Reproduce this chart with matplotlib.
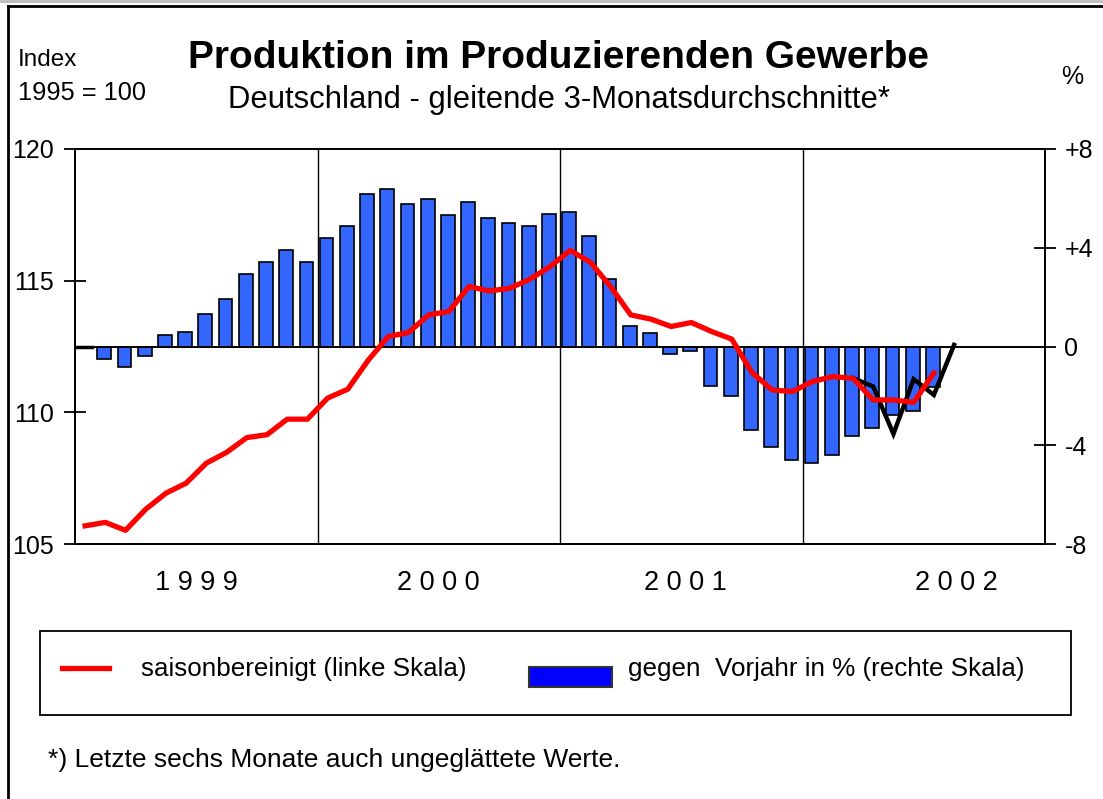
import numpy as np
import matplotlib
matplotlib.use("Agg")
import matplotlib.pyplot as plt
from matplotlib.lines import Line2D
from matplotlib.patches import Rectangle
import matplotlib.transforms as mtransforms

plt.rcParams.update({
    'font.family': ['Liberation Sans', 'DejaVu Sans'],
    'font.size': 18,
})

# ── DATA ────────────────────────────────────────────────────────────────────
# monthly, Jan 1999 .. Jul 2002
index_sa = [105.69, 105.82, 105.52, 106.32, 106.93, 107.31, 108.07, 108.48, 109.04, 109.15, 109.74, 109.74,
            110.54, 110.88, 111.97, 112.88, 113.03, 113.70, 113.83, 114.78, 114.61, 114.71, 115.05, 115.53,
            116.15, 115.70, 114.78, 113.70, 113.54, 113.26, 113.41, 113.07, 112.78, 111.51, 110.85, 110.79,
            111.17, 111.36, 111.29, 110.47, 110.47, 110.38, 111.49]
yoy_pct = [0.0, -0.51, -0.85, -0.39, 0.46, 0.59, 1.31, 1.94, 2.93, 3.43, 3.89, 3.43,
           4.41, 4.87, 6.17, 6.36, 5.78, 5.96, 5.32, 5.86, 5.19, 4.99, 4.87, 5.38,
           5.45, 4.48, 2.73, 0.84, 0.53, -0.32, -0.19, -1.62, -2.01, -3.37, -4.08, -4.60,
           -4.72, -4.40, -3.62, -3.29, -2.78, -2.60, -1.66]
# unsmoothed values, Mar 2002 .. Aug 2002
raw_start = 38
index_raw = [111.30, 110.98, 109.18, 111.26, 110.66, 112.56]

years = ['1 9 9 9', '2 0 0 0', '2 0 0 1', '2 0 0 2']
year_pos = [6.0, 18.0, 30.2, 43.6]

left_ticks = [105, 110, 115, 120]
right_ticks = [-8, -4, 0, 4, 8]
right_labels = ['-8', '-4', '0', '+4', '+8']

BAR_C = '#3366ff'
RED = '#ff0000'

# ── FIGURE ──────────────────────────────────────────────────────────────────
W, H = 1103, 799
fig = plt.figure(figsize=(W / 100, H / 100), dpi=100)
fig.patch.set_facecolor('white')

def fx(px):
    return px / W

def fy(py):
    return 1 - py / H

ax2 = fig.add_axes([fx(75), fy(544), fx(1045) - fx(75), fy(149) - fy(544)])
ax = ax2.twinx()
ax.yaxis.tick_left()
ax2.yaxis.tick_right()

x = np.arange(len(index_sa)) + 0.5
xr = np.arange(len(index_raw)) + raw_start + 0.5

# bars on the % axis
ax2.bar(x - 0.05, yoy_pct, width=0.68, color=BAR_C, edgecolor='black',
        linewidth=1.2, zorder=2)
ax2.axhline(0, color='black', linewidth=1.4, zorder=3)
ax2.plot([0, 0.85], [0, 0], color='black', linewidth=2.5, zorder=3)
for yr in (12, 24, 36):
    ax2.axvline(yr, color='black', linewidth=1.0, zorder=1)
ax2.set_xlim(0, 48)
ax2.set_ylim(-8, 8)
ax2.set_yticks(right_ticks)
ax2.set_yticklabels(right_labels)
ax2.set_xticks([])

# index lines
ax.plot(xr, index_raw, color='black', linewidth=3.2, zorder=3,
        solid_joinstyle='miter')
ax.plot(x, index_sa, color=RED, linewidth=3.8, zorder=4)
ax.set_ylim(105, 120)
ax.set_yticks(left_ticks)
ax.set_xlim(0, 48)
ax.patch.set_visible(False)

for a in (ax, ax2):
    for s in a.spines.values():
        s.set_linewidth(1.3)
    a.tick_params(axis='y', direction='inout', length=16, width=1.3,
                  labelsize=18, pad=6)
ax.tick_params(axis='y', left=True, right=False, labelleft=True, labelright=False,
               pad=7)
ax2.tick_params(axis='y', left=False, right=True, labelleft=False, labelright=True)

# year labels
trans = mtransforms.blended_transform_factory(ax2.transData, fig.transFigure)
for yl, xp in zip(years, year_pos):
    fig.text(xp, fy(583), yl, transform=trans, ha='center', va='center',
             fontsize=19.5)

# ── TEXTS ───────────────────────────────────────────────────────────────────
fig.text(fx(559), fy(58), 'Produktion im Produzierenden Gewerbe',
         ha='center', va='center', fontsize=28, fontweight='bold')
fig.text(fx(559), fy(100), 'Deutschland - gleitende 3-Monatsdurchschnitte*',
         ha='center', va='center', fontsize=22.3)
fig.text(fx(18), fy(60), 'Index', ha='left', va='center', fontsize=17.5)
fig.text(fx(18), fy(93), '1995 = 100', ha='left', va='center', fontsize=18.3)
fig.text(fx(1072), fy(77), '%', ha='center', va='center', fontsize=18)

# legend box
fig.add_artist(Rectangle((fx(40), fy(715)), fx(1071) - fx(40), fy(631) - fy(715),
                         transform=fig.transFigure, facecolor='white',
                         edgecolor='black', linewidth=1.3))
fig.add_artist(Line2D([fx(62), fx(109)], [fy(668), fy(668)],
                      transform=fig.transFigure, color=RED, linewidth=3.8))
fig.text(fx(141), fy(669), 'saisonbereinigt (linke Skala)', ha='left',
         va='center', fontsize=18.7)
fig.add_artist(Rectangle((fx(529), fy(687)), fx(612) - fx(529), fy(667) - fy(687),
                         transform=fig.transFigure, facecolor='#0000ff',
                         edgecolor='#333333', linewidth=1.5))
fig.text(fx(628), fy(669), 'gegen  Vorjahr in % (rechte Skala)', ha='left',
         va='center', fontsize=18.7)

fig.text(fx(48), fy(760), '*) Letzte sechs Monate auch ungeglättete Werte.',
         ha='left', va='center', fontsize=19)

# outer frame (left and top edge)
fig.add_artist(Line2D([fx(8), fx(8)], [0, fy(6)], transform=fig.transFigure,
                      color='black', linewidth=2))
fig.add_artist(Line2D([fx(8), 1], [fy(6), fy(6)], transform=fig.transFigure,
                      color='black', linewidth=2))
fig.add_artist(Line2D([0, 1], [fy(1), fy(1)], transform=fig.transFigure,
                      color='#bbbbbb', linewidth=2))

fig.savefig('out.png', dpi=100, facecolor='white')
